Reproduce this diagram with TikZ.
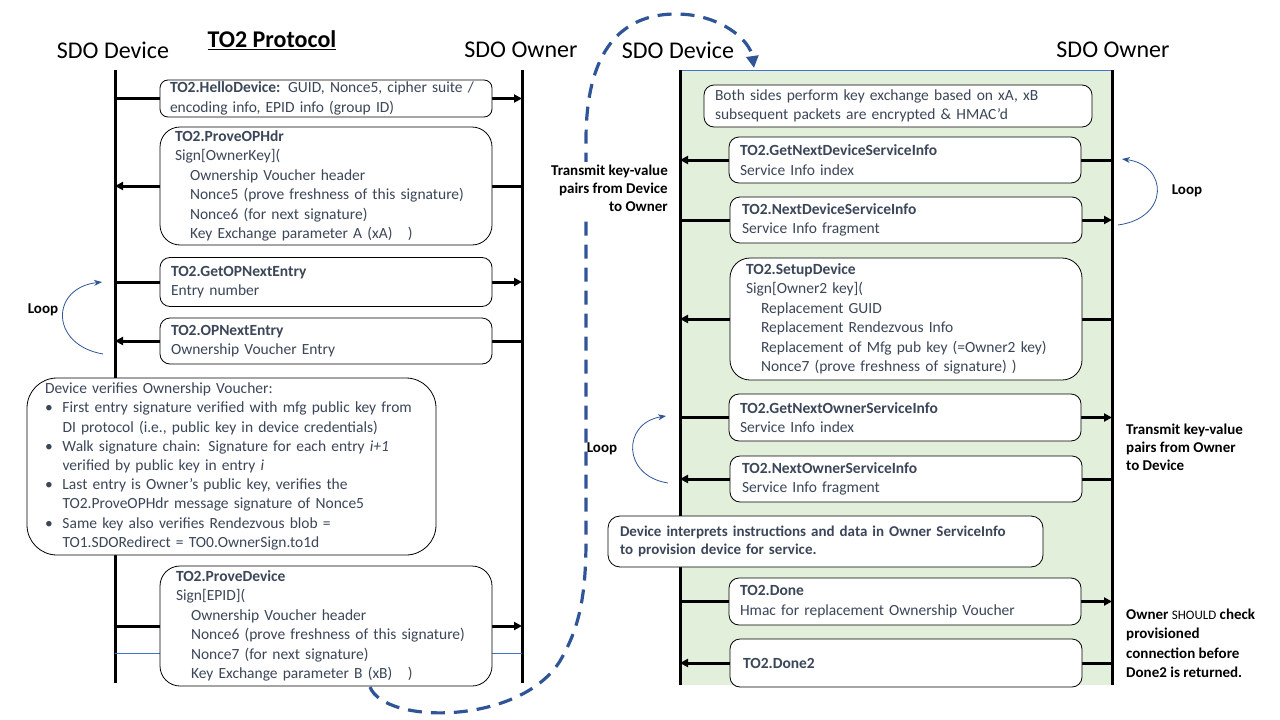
\documentclass[tikz,border=0pt]{standalone}
\usepackage{fontspec}
\setmainfont{Carlito}
\usetikzlibrary{arrows.meta,backgrounds}
\definecolor{boxtext}{HTML}{3B4658}
\definecolor{loopblue}{HTML}{2F5597}
\definecolor{lineblue}{HTML}{4472C4}
\definecolor{secgreen}{HTML}{E2EFDA}
\newcommand\vbul{\makebox[17.5pt][l]{\textbullet}}
\newcommand\vind{\hspace*{17.5pt}}
\newcommand\sind{\hspace*{15pt}}
\tikzset{
	msgbox/.style={draw, fill=white, line width=0.8pt, rounded corners=10pt, inner ysep=0pt, align=left, text=boxtext, font=\fontsize{15.5}{19.5}\selectfont},
	msgarrow/.style={line width=3pt, -{Triangle[length=8pt,width=8pt]}},
	lifeline/.style={line width=3pt},
	loopline/.style={draw=loopblue, line width=0.8pt, -{Stealth[length=8pt,width=6pt]}},
	jumpline/.style={draw=loopblue, line width=3.2pt, dash pattern=on 14pt off 9pt, -{Triangle[length=12pt,width=12pt]}},
	hdr/.style={inner sep=0pt, font=\fontsize{24}{28}\selectfont},
	note/.style={inner sep=0pt, font=\bfseries\fontsize{15}{18}\selectfont}
}

\begin{document}
\begin{tikzpicture}[x=1pt,y=-1pt]
			%%%%% START %%%%%
			\useasboundingbox (0,0) rectangle (1280,720);
			
			% lifelines
			\coordinate (devL) at (115,70);  \coordinate (devLend) at (115,683);
			\coordinate (ownL) at (522,70);  \coordinate (ownLend) at (522,683);
			\coordinate (devR) at (680,70);  \coordinate (devRend) at (680,685);
			\coordinate (ownR) at (1112,70); \coordinate (ownRend) at (1112,685);
			
			\node[hdr] (devLhdr) at (113,50) {SDO Device};
			\node[hdr, font=\bfseries\fontsize{24}{28}\selectfont] (title) at (272,40) {\underline{TO2 Protocol}};
			\node[hdr] (ownLhdr) at (521,50) {SDO Owner};
			\node[hdr] (devRhdr) at (678,50) {SDO Device};
			\node[hdr] (ownRhdr) at (1113,50) {SDO Owner};
			
			% left side
			\node[msgbox, rounded corners=8pt, inner xsep=10pt, text width=312pt, minimum height=37] (hello) at (326,98.5) {\mbox{\textbf{TO2.HelloDevice:} GUID, Nonce5, cipher suite /}\\encoding info, EPID info (group ID)};
			\node[msgbox, rounded corners=20pt, inner xsep=15pt, text width=302pt, minimum height=118] (proveop) at (326,186) {\textbf{TO2.ProveOPHdr}\\Sign[OwnerKey](\\\sind Ownership Voucher header\\\sind Nonce5 (prove freshness of this signature)\\\sind Nonce6 (for next signature)\\\sind Key Exchange parameter A (xA)\quad)};
			\node[msgbox, inner xsep=11pt, text width=310pt, minimum height=49] (getop) at (326,282) {\textbf{TO2.GetOPNextEntry}\\Entry number};
			\node[msgbox, inner xsep=11pt, text width=310pt, minimum height=46] (opnext) at (326,341) {\textbf{TO2.OPNextEntry}\\Ownership Voucher Entry};
			\node[msgbox, rounded corners=30pt, inner xsep=18pt, text width=373pt, minimum height=177, font=\fontsize{15.5}{19.2}\selectfont] (verify) at (231.5,466.5) {Device verifies Ownership Voucher:\\
				\vbul \mbox{First entry signature verified with mfg public key from}\\
				\vind DI protocol (i.e., public key in device credentials)\\
				\vbul Walk signature chain: Signature for each entry \textit{i+1}\\
				\vind verified by public key in entry \textit{i}\\
				\vbul Last entry is Owner’s public key, verifies the\\
				\vind TO2.ProveOPHdr message signature of Nonce5\\
				\vbul Same key also verifies Rendezvous blob =\\
				\vind TO1.SDORedirect = TO0.OwnerSign.to1d};
			\node[msgbox, rounded corners=20pt, inner xsep=16pt, text width=300pt, minimum height=120] (provedev) at (326,626) {\textbf{TO2.ProveDevice}\\Sign[EPID](\\\sind Ownership Voucher header\\\sind Nonce6 (prove freshness of this signature)\\\sind Nonce7 (for next signature)\\\sind Key Exchange parameter B (xB)\quad)};
			
			\coordinate (loopLa) at (103,354);
			\coordinate (loopLb) at (102,282);
			\draw[loopline] (loopLa) .. controls (50,345) and (50,288) .. (loopLb);
			\node[note] (loopLtxt) at (43,310) {Loop};
			
			% right side
			\node[msgbox, inner xsep=11pt, text width=366pt, minimum height=42] (keyx) at (898,106) {Both sides perform key exchange based on xA, xB\\subsequent packets are encrypted \& HMAC’d};
			\node[msgbox, inner xsep=11pt, text width=330pt, minimum height=46] (getdev) at (905,160) {\textbf{TO2.GetNextDeviceServiceInfo}\\Service Info index};
			\node[msgbox, inner xsep=12pt, text width=328pt, minimum height=46] (nextdev) at (906,220) {\textbf{TO2.NextDeviceServiceInfo}\\Service Info fragment};
			\node[msgbox, rounded corners=20pt, inner xsep=16pt, text width=320pt, minimum height=122] (setup) at (906,319) {\textbf{TO2.SetupDevice}\\Sign[Owner2 key](\\\sind Replacement GUID\\\sind Replacement Rendezvous Info\\\sind Replacement of Mfg pub key (=Owner2 key)\\\sind Nonce7 (prove freshness of signature) )};
			\node[msgbox, inner xsep=11pt, text width=330pt, minimum height=47] (getown) at (905,417.5) {\textbf{TO2.GetNextOwnerServiceInfo}\\Service Info index};
			\node[msgbox, inner xsep=12pt, text width=328pt, minimum height=46] (nextown) at (906,479) {\textbf{TO2.NextOwnerServiceInfo}\\Service Info fragment};
			\node[msgbox, rounded corners=12pt, inner xsep=12pt, text width=411pt, minimum height=51, font=\bfseries\fontsize{15}{18}\selectfont] (interp) at (825.5,541.5) {\mbox{Device interprets instructions and data in Owner ServiceInfo}\\to provision device for service.};
			\node[msgbox, inner xsep=11pt, text width=330pt, minimum height=47] (done) at (905,601.5) {\textbf{TO2.Done}\\Hmac for replacement Ownership Voucher};
			\node[msgbox, inner xsep=13pt, text width=326pt, minimum height=48] (donetwo) at (906,663) {\textbf{TO2.Done2}};
			
			\coordinate (loopRa) at (1118,225);
			\coordinate (loopRb) at (1122,159);
			\draw[loopline] (loopRa) .. controls (1170,218) and (1168,165) .. (loopRb);
			\node[note] (loopRtxt) at (1187,191) {Loop};
			
			\coordinate (loopMa) at (668,483);
			\coordinate (loopMb) at (666,416);
			\draw[loopline] (loopMa) .. controls (622,476) and (622,423) .. (loopMb);
			\node[note] (loopMtxt) at (602,449) {Loop};
			
			\node[note, anchor=east, align=right, fill=white, inner sep=3pt] (txDev) at (671,188) {Transmit key-value\\pairs from Device\\to Owner};
			\node[note, anchor=west, align=left] (txOwn) at (1126,447) {Transmit key-value\\pairs from Owner\\to Device};
			\node[note, anchor=west, align=left, font=\bfseries\fontsize{15}{19.5}\selectfont] (chk) at (1126,643.5) {Owner {\mdseries\fontsize{13}{19.5}\selectfont SHOULD} check\\provisioned\\connection before\\Done2 is returned.};
			
			\begin{scope}[on background layer]
				\fill[secgreen] (devR) rectangle (ownRend);
				\draw[lineblue, line width=0.8pt] (devR) -- (ownR);
				
				\draw[lifeline] (devL) -- (devLend);
				\draw[lifeline] (ownL) -- (ownLend);
				\draw[lifeline] (devR) -- (devRend);
				\draw[lifeline] (ownR) -- (ownRend);
				
				\draw[msgarrow] (devL |- hello) -- (ownL |- hello);
				\draw[msgarrow] (ownL |- proveop) -- (devL |- proveop);
				\draw[msgarrow] (devL |- getop) -- (ownL |- getop);
				\draw[msgarrow] (ownL |- opnext) -- (devL |- opnext);
				\draw[msgarrow] (devL |- provedev) -- (ownL |- provedev);
				\draw[lineblue, line width=0.8pt] ([yshift=-27pt]devL |- provedev) -- ([yshift=-27pt]ownL |- provedev);
				
				\draw[msgarrow] (ownR |- getdev) -- (devR |- getdev);
				\draw[msgarrow] (devR |- nextdev) -- (ownR |- nextdev);
				\draw[msgarrow] (ownR |- setup) -- (devR |- setup);
				\draw[msgarrow] (devR |- getown) -- (ownR |- getown);
				\draw[msgarrow] (ownR |- nextown) -- (devR |- nextown);
				\draw[msgarrow] (devR |- done) -- (ownR |- done);
				\draw[msgarrow] (ownR |- donetwo) -- (devR |- donetwo);
				
				% jump to the second half
				\coordinate (jumpS) at (370,687);
				\coordinate (jumpE) at (754,68);
				\draw[jumpline] (jumpS) .. controls (385,725) and (520,725) .. (560,661) .. controls (578,630) and (586,600) .. (586,540) -- (586,140) .. controls (586,40) and (630,14) .. (676,14) .. controls (720,14) and (750,40) .. (jumpE);
			\end{scope}
			%%%%% END %%%%%
\end{tikzpicture}
\end{document}
